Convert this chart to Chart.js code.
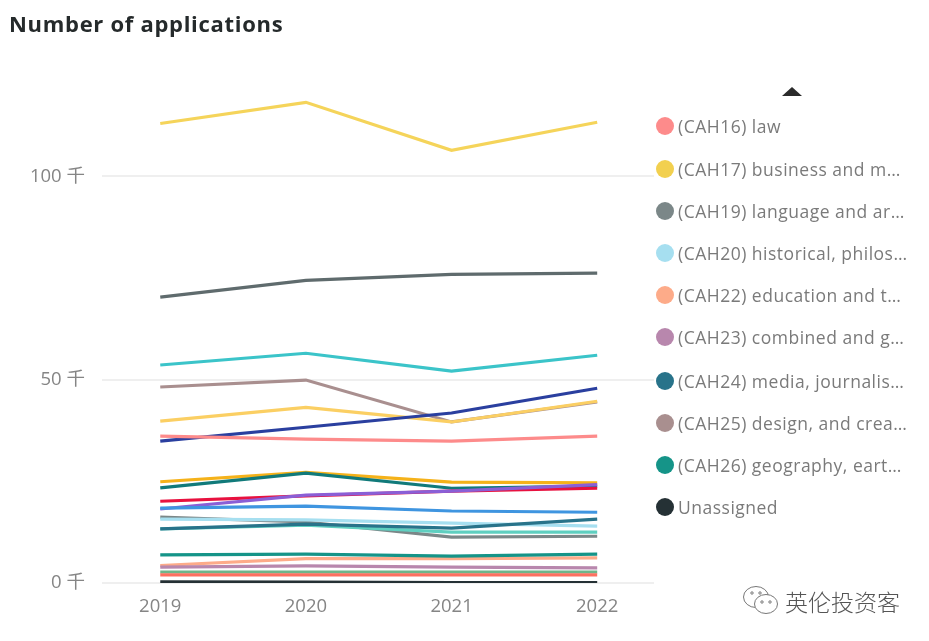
<!DOCTYPE html>
<html>
<head>
<meta charset="utf-8">
<script src="https://cdn.jsdelivr.net/npm/chart.js@4"></script>
<style>
  html, body { margin: 0; padding: 0; background: #fff; overflow: hidden; }
  body { width: 929px; height: 641px; position: relative; font-family: "Open Sans", "Noto Sans CJK SC", sans-serif; filter: blur(0.45px); }
  #chart { position: absolute; left: 0; top: 0; }
  #title { position: absolute; left: 9px; top: 8px; font-size: 22px; font-weight: 700; color: #252a2b; letter-spacing: 0.7px; white-space: nowrap; }
  #arrow { position: absolute; left: 782px; top: 87px; width: 0; height: 0;
           border-left: 10px solid transparent; border-right: 10px solid transparent; border-bottom: 9px solid #2b2b2b; }
  .row { position: absolute; left: 656px; height: 20px; display: flex; align-items: center; white-space: nowrap; }
  .dot { width: 18px; height: 18px; border-radius: 50%; margin-right: 4px; flex: none; }
  .txt { font-size: 17.5px; color: #7a7a7a; letter-spacing: 0.5px; }
  #mark { position: absolute; left: 742px; top: 584px; display: flex; align-items: center; }
  #mark span { font-size: 23px; color: #555; margin-left: 6px; font-family: "Noto Sans CJK SC", sans-serif; font-weight: 300; }
</style>
</head>
<body>
<canvas id="chart" width="929" height="641"></canvas>
<div id="title">Number of applications</div>
<div id="arrow"></div>
<div id="legend"></div>
<div id="mark">
  <svg width="37" height="32" viewBox="0 0 37 32" fill="#fff" stroke="#777" stroke-width="1">
    <ellipse cx="14" cy="12" rx="12.5" ry="10.5"/>
    <ellipse cx="24" cy="19" rx="11.5" ry="9.5"/>
    <circle cx="10" cy="8" r="1.2"/><circle cx="18" cy="8" r="1.2"/>
    <circle cx="20" cy="17" r="1.2"/><circle cx="28" cy="17" r="1.2"/>
  </svg>
  <span>英伦投资客</span>
</div>
<script>
// ── Data (thousands) ──────────────────────────────────────────────
const years = [2019, 2020, 2021, 2022];
const yTicks = [0, 50, 100];

const cah16 = [36.1, 35.4, 34.9, 36.1];
const cah17 = [113.0, 118.2, 106.4, 113.3];
const cah19 = [16.2, 15.0, 11.3, 11.5];
const cah20 = [15.7, 15.5, 14.7, 14.0];
const cah22 = [4.3, 6.0, 6.0, 6.2];
const cah23 = [3.9, 4.2, 3.9, 3.7];
const cah24 = [13.3, 14.5, 13.5, 15.7];
const cah25 = [48.2, 49.9, 39.6, 44.5];
const cah26 = [6.9, 7.1, 6.6, 7.1];
const unassigned = [0.3, 0.2, 0.1, 0.1];
// These lines are not in the visible part of the scrolled legend
const darkGrey = [70.3, 74.4, 75.9, 76.2];
const cyan = [53.6, 56.5, 52.1, 56.0];
const paleAmber = [39.8, 43.2, 39.6, 44.7];
const navy = [34.9, 38.3, 41.8, 47.9];
const amber = [24.9, 27.2, 24.8, 24.6];
const teal = [23.4, 27.0, 23.3, 23.8];
const red = [20.1, 21.4, 22.6, 23.3];
const purple = [18.2, 21.6, 22.6, 24.2];
const blue = [18.4, 18.9, 17.7, 17.4];
const turquoise = [13.3, 14.2, 12.5, 12.5];
const green = [2.7, 2.7, 2.7, 2.7];
const coral = [2.0, 2.0, 2.0, 2.0];

const legendLabels = ['(CAH16) law', '(CAH17) business and m…', '(CAH19) language and ar…',
  '(CAH20) historical, philos…', '(CAH22) education and t…', '(CAH23) combined and g…',
  '(CAH24) media, journalis…', '(CAH25) design, and crea…', '(CAH26) geography, eart…', 'Unassigned'];
const legendColors = ['#fd8b8b', '#f2d04f', '#7b8788', '#a6dff0', '#fdab89',
  '#b887ad', '#28738a', '#a98f8f', '#159488', '#253135'];
const legendTops = [116, 159, 201, 243, 285, 327, 371, 413, 455, 497];

// Listed bottom layer first; Chart.js paints the first dataset last, hence the reverse below
const series = [
  ['CAH17', cah17, '#f5d45a'], ['dark grey', darkGrey, '#5f6b6d'], ['cyan', cyan, '#3bc4c9'],
  ['CAH25', cah25, '#a98f8f'], ['pale amber', paleAmber, '#fbcf63'], ['navy', navy, '#2a3f9f'],
  ['CAH16', cah16, '#fd8b8b'], ['amber', amber, '#f5b21a'], ['teal', teal, '#117a7a'],
  ['red', red, '#e8113f'], ['purple', purple, '#8a5fd6'], ['blue', blue, '#3f95e0'],
  ['CAH19', cah19, '#7b8788'], ['CAH20', cah20, '#a6dff0'], ['turquoise', turquoise, '#5fcfc0'],
  ['CAH24', cah24, '#28738a'], ['CAH22', cah22, '#fdab89'], ['CAH26', cah26, '#159488'],
  ['CAH23', cah23, '#b887ad'], ['green', green, '#6fb58a'], ['coral', coral, '#fd7060'],
  ['Unassigned', unassigned, '#253135'],
];

// ── Legend ────────────────────────────────────────────────────────
const legend = document.getElementById('legend');
legendLabels.forEach((label, i) => {
  legend.innerHTML += `<div class="row" style="top:${legendTops[i]}px">
    <div class="dot" style="background:${legendColors[i]}"></div><div class="txt">${label}</div></div>`;
});

// ── Chart ─────────────────────────────────────────────────────────
const tickFont = { family: "'Open Sans', 'Noto Sans CJK SC', sans-serif", size: 18.5 };

new Chart(document.getElementById('chart'), {
  type: 'line',
  data: {
    datasets: series.slice().reverse().map(([label, values, color]) => ({
      label,
      data: values.map((v, i) => ({ x: years[i], y: v })),
      borderColor: color,
      borderWidth: 3.2,
      pointRadius: 0,
      tension: 0,
      fill: false,
    })),
  },
  options: {
    responsive: false,
    animation: false,
    layout: { padding: { top: 95, right: 275, left: 0, bottom: 0 } },
    plugins: { legend: { display: false }, tooltip: { enabled: false } },
    scales: {
      x: {
        type: 'linear',
        min: 2018.6,
        max: 2022.39,
        afterBuildTicks: axis => { axis.ticks = years.map(value => ({ value })); },
        afterFit: axis => { axis.height = 58; },
        ticks: { color: '#858585', font: tickFont, padding: 5, maxRotation: 0, callback: v => String(v) },
        grid: { display: false },
        border: { display: false },
      },
      y: {
        min: 0,
        max: 120,
        afterBuildTicks: axis => { axis.ticks = yTicks.map(value => ({ value })); },
        afterFit: axis => { axis.width = 102; },
        ticks: { color: '#858585', font: tickFont, padding: 17, callback: v => v + ' 千' },
        grid: { color: '#efefef', lineWidth: 2, drawTicks: false },
        border: { display: false },
      },
    },
  },
});
</script>
</body>
</html>
